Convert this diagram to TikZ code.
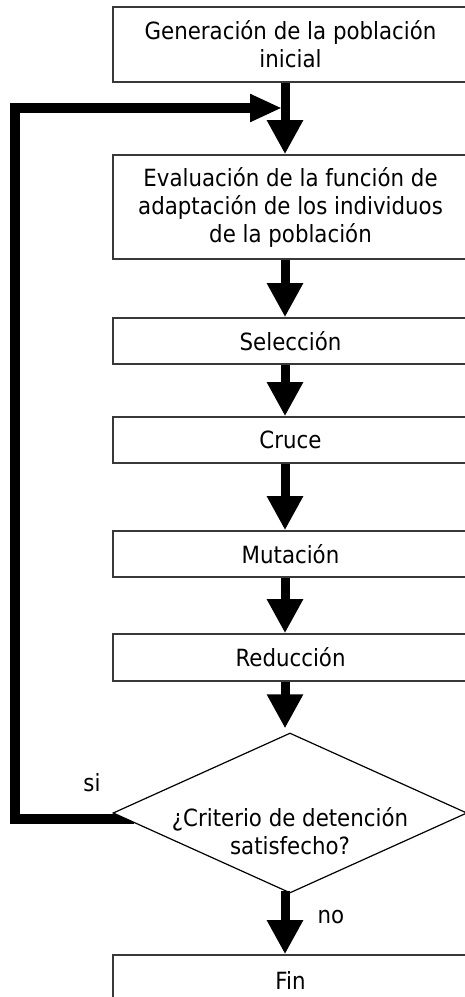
\documentclass[tikz,border=0pt]{standalone}
\usepackage{fontspec}
\setmainfont{DejaVu Sans}[FakeStretch=0.9]
\usetikzlibrary{arrows.meta,shapes.geometric,backgrounds}
\begin{document}
\begin{tikzpicture}[x=1pt,y=-1pt,
  txt/.style={font=\fontsize{23.7}{28}\selectfont},
  box/.style={txt,draw=black!78,line width=1.6pt,fill=white,minimum width=355pt,inner sep=0pt,align=center},
  flow/.style={line width=9pt,-{Triangle[length=34pt,width=34pt]}},
  fb/.style={line width=10pt,line join=miter,-{Triangle[length=32pt,width=26pt]}}]
\useasboundingbox (0,0) rectangle (465,997);
\clip (0,0) rectangle (465,997);
\coordinate (ax) at (285,0);
\coordinate (lc) at (15,0);
\coordinate (j) at (282,108);
\node[box,minimum height=75pt] (g) at (290.5,44.5) {Generación de la población\\inicial};
\node[box,minimum height=104pt] (e) at (290.5,207) {Evaluación de la función de\\adaptación de los individuos\\de la población};
\node[box,minimum height=46pt] (s) at (290.5,341) {Selección};
\node[box,minimum height=46pt] (c) at (290.5,440) {Cruce};
\node[box,minimum height=46pt] (m) at (290.5,554) {Mutación};
\node[box,minimum height=47pt] (r) at (290.5,657.5) {Reducción};
\node[draw,line width=1.2pt,fill=white,diamond,minimum width=354pt,minimum height=160pt,inner sep=0pt] (d) at (290,813) {};
\node[txt,align=center] (dt) at (290,831) {¿Criterio de detención\\satisfecho?};
\node[box,minimum height=50pt] (f) at (290.5,980) {Fin};
\node[txt] (si) at (92,783) {si};
\node[txt] (no) at (331,917) {no};
\draw[flow] (g.south -| ax) -- (e.north -| ax);
\draw[flow] (e.south -| ax) -- (s.north -| ax);
\draw[flow] (s.south -| ax) -- (c.north -| ax);
\draw[flow] (c.south -| ax) -- (m.north -| ax);
\draw[flow] (m.south -| ax) -- (r.north -| ax);
\draw[flow,shorten >=4pt] (r.south -| ax) -- (d.north -| ax);
\draw[flow] ([yshift=3pt]d.south -| ax) -- (f.north -| ax);
\begin{scope}[on background layer]
\draw[fb] ([xshift=22pt,yshift=-6pt]d.west) -| (lc |- j) -- (j);
\end{scope}
\end{tikzpicture}
\end{document}
